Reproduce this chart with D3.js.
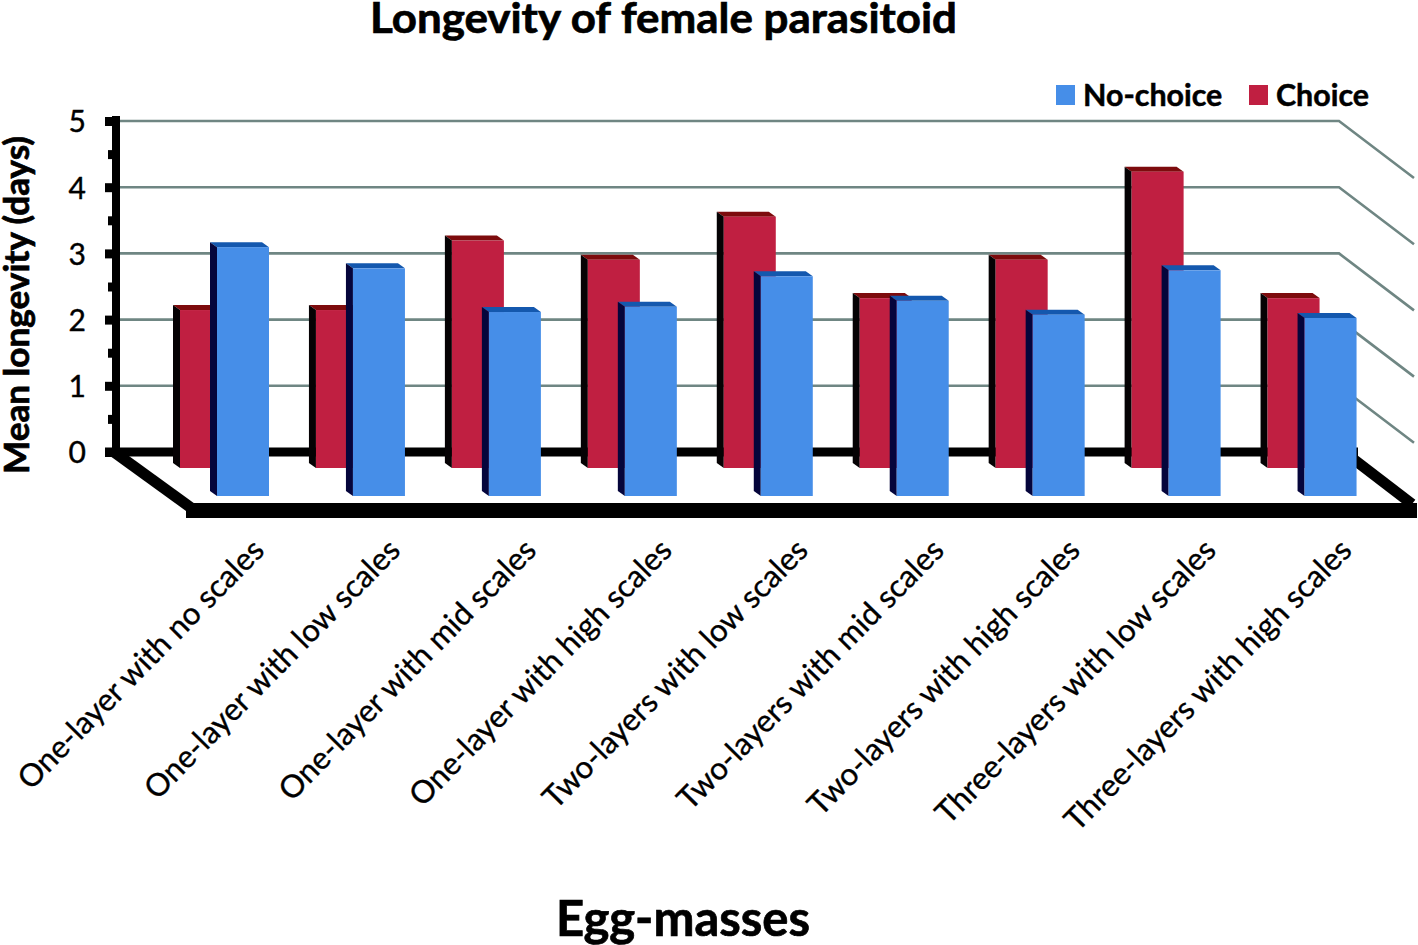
<!DOCTYPE html>
<html>
<head>
<meta charset="utf-8">
<script src="https://cdnjs.cloudflare.com/ajax/libs/d3/7.8.5/d3.min.js"></script>
<style>
  html, body { margin: 0; padding: 0; background: #fff; }
  svg { display: block; }
  text { font-family: Lato, "Open Sans", sans-serif; fill: #000; }
</style>
</head>
<body>
<svg id="chart" width="1418" height="945" viewBox="0 0 1418 945"></svg>
<script>
const categories = [
  "One-layer with no scales", "One-layer with low scales", "One-layer with mid scales",
  "One-layer with high scales", "Two-layers with low scales", "Two-layers with mid scales",
  "Two-layers with high scales", "Three-layers with low scales", "Three-layers with high scales"
];
const choice = [2.22, 2.22, 3.27, 2.98, 3.63, 2.40, 2.98, 4.31, 2.40];
const noChoice = [3.17, 2.85, 2.19, 2.27, 2.73, 2.36, 2.15, 2.82, 2.10];
const majorTicks = [0, 1, 2, 3, 4, 5];
const minorTicks = [0.5, 1.5, 2.5, 3.5, 4.5];
const gridTicks = [1, 2, 3, 4, 5];

let chart = d3.select("#chart");

let y = d3.scaleLinear([0, 5], [452, 121]);
let x = d3.scaleBand(d3.range(categories.length), [173, 1396.5]).paddingInner(0).paddingOuter(0).align(0);

const depthX = 7, depthY = 5, barW = 52;
const blueShift = 37;
const redBottom = 468, blueBottom = 496;

// back wall grid, with the side wall going off to the right
let grid = chart.append("g");
grid.selectAll("path")
  .data(gridTicks)
  .enter().append("path")
  .attr("d", d => `M118,${y(d)}L1339,${y(d)}L1414,${y(d) + 57}`)
  .attr("fill", "none")
  .attr("stroke", "#6f8683")
  .attr("stroke-width", 2.6);

// floor frame
chart.append("path")
  .attr("d", "M105,452L1358,452")
  .attr("stroke", "#000").attr("stroke-width", 9);
chart.append("path")
  .attr("d", "M114,452L194,510")
  .attr("stroke", "#000").attr("stroke-width", 11);
chart.append("path")
  .attr("d", "M1352,458L1412,504")
  .attr("stroke", "#000").attr("stroke-width", 11);
chart.append("path")
  .attr("d", "M186,510.5L1417,510.5")
  .attr("stroke", "#000").attr("stroke-width", 15);

// y axis
let yAxis = chart.append("g")
  .attr("transform", "translate(116,0)")
  .call(d3.axisLeft(y).tickValues(majorTicks).tickSize(11).tickPadding(19).tickFormat(d3.format("d")));
yAxis.select(".domain").attr("stroke", "#000").attr("stroke-width", 8).attr("d", "M0,116V456");
yAxis.selectAll(".tick line").attr("stroke", "#000").attr("stroke-width", 9).attr("x1", 4);
yAxis.selectAll(".tick text")
  .attr("dy", "0.36em")
  .style("font-family", "Lato, sans-serif")
  .style("font-size", "30px").style("font-weight", 400)
  .attr("fill", "#000").attr("stroke", "#000").attr("stroke-width", 0.4);

let yMinor = chart.append("g")
  .attr("transform", "translate(116,0)")
  .call(d3.axisLeft(y).tickValues(minorTicks).tickSize(8).tickFormat(""));
yMinor.select(".domain").remove();
yMinor.selectAll(".tick line").attr("stroke", "#000").attr("stroke-width", 9);

function drawBar(g, left, top, bottom, cFront, cSide, cTop) {
  // left is the back left edge, top the back top edge
  g.append("polygon")
    .attr("points", [[left, top], [left + barW, top], [left + barW + depthX, top + depthY], [left + depthX, top + depthY]].join(" "))
    .attr("fill", cTop);
  g.append("polygon")
    .attr("points", [[left, top], [left + depthX, top + depthY], [left + depthX, bottom], [left, bottom - depthY]].join(" "))
    .attr("fill", cSide);
  g.append("rect")
    .attr("x", left + depthX)
    .attr("y", top + depthY)
    .attr("width", barW)
    .attr("height", bottom - top - depthY)
    .attr("fill", cFront);
}

let groups = chart.append("g").selectAll("g")
  .data(categories)
  .enter().append("g");

groups.each(function (d, i) {
  let g = d3.select(this);
  drawBar(g, x(i), y(choice[i]), redBottom, "#c01f41", "#050204", "#7d0b0d");
  drawBar(g, x(i) + blueShift, y(noChoice[i]), blueBottom, "#468ee8", "#05053b", "#1458ae");
});

// category labels
chart.append("g").selectAll("text")
  .data(categories)
  .enter().append("text")
  .attr("transform", (d, i) => `translate(${x(i) + 93},552) rotate(-45.5)`)
  .attr("text-anchor", "end")
  .attr("stroke", "#000").attr("stroke-width", 0.35)
  .style("font-size", "31.2px")
  .text(d => d);

// titles
chart.append("text")
  .attr("x", 370).attr("y", 33)
  .attr("textLength", 587)
  .attr("lengthAdjust", "spacingAndGlyphs")
  .attr("stroke", "#000").attr("stroke-width", 0.7)
  .style("font-size", "42px").style("font-weight", 700)
  .text("Longevity of female parasitoid");
chart.append("text")
  .attr("x", 683).attr("y", 936)
  .attr("text-anchor", "middle")
  .attr("stroke", "#000").attr("stroke-width", 0.7)
  .style("font-size", "49px").style("font-weight", 700)
  .text("Egg-masses");
chart.append("text")
  .attr("transform", "translate(29,474) rotate(-90)")
  .attr("textLength", 338)
  .attr("lengthAdjust", "spacingAndGlyphs")
  .attr("stroke", "#000").attr("stroke-width", 0.7)
  .style("font-size", "33.5px").style("font-weight", 700)
  .text("Mean longevity (days)");

// legend
const legendNames = ["No-choice", "Choice"];
const legendColors = ["#468ee8", "#c01f41"];
const legendX = d3.scaleOrdinal(legendNames, [1056, 1249]);
let legend = chart.append("g").selectAll("g")
  .data(legendNames)
  .enter().append("g")
  .attr("transform", d => `translate(${legendX(d)},85)`);
legend.append("rect")
  .attr("width", 19).attr("height", 20)
  .attr("fill", (d, i) => legendColors[i]);
legend.append("text")
  .attr("x", 27).attr("y", 21)
  .attr("stroke", "#000").attr("stroke-width", 0.5)
  .style("font-size", "30.4px").style("font-weight", 700)
  .text(d => d);
</script>
</body>
</html>
